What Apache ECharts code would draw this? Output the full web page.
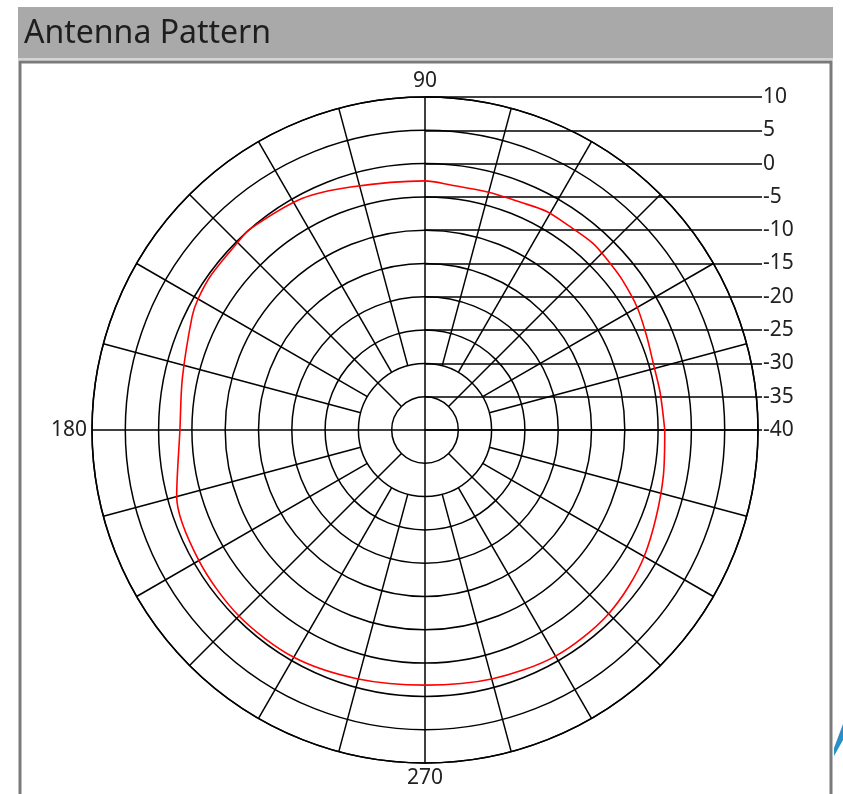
<!DOCTYPE html>
<html>
<head>
<meta charset="utf-8">
<script src="https://cdn.jsdelivr.net/npm/echarts@6/dist/echarts.min.js"></script>
<style>
html,body{margin:0;padding:0;background:#fff;}
#chart{width:843px;height:794px;}
</style>
</head>
<body>
<div id="chart"></div>
<script>
// ---- data ----
const chartTitle = 'Antenna Pattern';
const gainMin = -40, gainMax = 10, gainStep = 5;          // radial scale (dB)
const angleLabelValues = [90, 180, 270];                  // labelled angles
const spokeAngles = [0,15,30,45,60,75,90,105,120,135,150,165,180,195,210,225,240,255,270,285,300,315,330,345];
const spokeStarts = [-40,-30,-30,-35,-30,-30,-40,-30,-30,-35,-30,-30,-40,-30,-30,-35,-30,-30,-40,-30,-30,-35,-30,-30];
const patternAngles = [0,9,16,23,30,37,42,48,55,61,67,75,84,90,107,118,131,135,144,150,154,168,180,195,210,225,240,255,270,285,300,315,330,349,360];
const patternGain   = [-4.0,-4.25,-4.3,-3.85,-3.2,-2.8,-2.6,-2.3,-2.5,-2.45,-2.9,-3.05,-3.0,-2.6,-1.85,-0.65,0.0,-0.2,-0.35,-0.65,-1.1,-2.75,-3.2,-1.4,-0.8,-0.5,-0.6,-1.3,-1.7,-1.3,-0.8,-1.0,-2.0,-3.55,-4.0];

// ---- chart ----
const FONT = '"Noto Sans", "Open Sans", sans-serif';
const series = [];
spokeAngles.forEach((a, i) => {
  series.push({
    type: 'line', coordinateSystem: 'polar', polarIndex: 0,
    data: [[spokeStarts[i], a], [gainMax, a]],
    symbol: 'none', silent: true, z: 1,
    lineStyle: { color: '#000', width: 1.5 }
  });
});
series.push({
  type: 'line', coordinateSystem: 'polar', polarIndex: 0,
  data: patternAngles.map((a, i) => [patternGain[i], a]),
  symbol: 'none', smooth: 0.3, z: 5,
  lineStyle: { color: '#ff0000', width: 1.6 }
});

const chart = echarts.init(document.getElementById('chart'), null, { renderer: 'canvas' });
chart.setOption({
  animation: false,
  backgroundColor: '#fff',
  textStyle: { fontFamily: FONT },
  graphic: [
    { type: 'rect', z: -100, shape: { x: 18, y: 7, width: 815, height: 51 }, style: { fill: '#a9a9a9' } },
    { type: 'rect', z: -99, shape: { x: 18, y: 58, width: 815, height: 2 }, style: { fill: '#d4d4d4' } },
    { type: 'rect', z: -98, shape: { x: 20, y: 62, width: 811, height: 740 }, style: { fill: '#fff', stroke: '#7a7a7a', lineWidth: 3 } },
    { type: 'text', z: 10, x: 24, y: 34, style: { text: chartTitle, font: '32px ' + FONT, fill: '#1e1e1e', textVerticalAlign: 'middle' } },
    { type: 'polygon', z: 10, shape: { points: [[834, 748], [843, 724], [843, 740], [834, 756]] }, style: { fill: '#2a8fc6' } }
  ],
  polar: { center: [425, 430], radius: 333 },
  angleAxis: {
    type: 'value', min: 0, max: 360, interval: 90, startAngle: 0, clockwise: false,
    axisLine: { show: true, lineStyle: { color: '#000', width: 1.5 } },
    axisTick: { show: false },
    splitLine: { show: false },
    axisLabel: {
      margin: 5, fontSize: 21, color: '#222', fontFamily: FONT,
      formatter: v => angleLabelValues.indexOf(v) >= 0 ? String(v) : ''
    }
  },
  radiusAxis: {
    type: 'value', min: gainMin, max: gainMax, interval: gainStep,
    axisLine: { show: false }, axisTick: { show: false }, axisLabel: { show: false },
    splitLine: { show: true, lineStyle: { color: '#000', width: 1.5 } }
  },
  grid: { left: 425, top: 97, width: 337, height: 333 },
  xAxis: { type: 'value', min: 0, max: 1, show: false },
  yAxis: {
    type: 'value', position: 'right', min: gainMin, max: gainMax, interval: gainStep,
    axisLine: { show: false }, axisTick: { show: false },
    splitLine: { show: true, lineStyle: { color: '#000', width: 1.5 } },
    axisLabel: { margin: 1, fontSize: 21, color: '#222', fontFamily: FONT }
  },
  series: series
});
</script>
</body>
</html>
